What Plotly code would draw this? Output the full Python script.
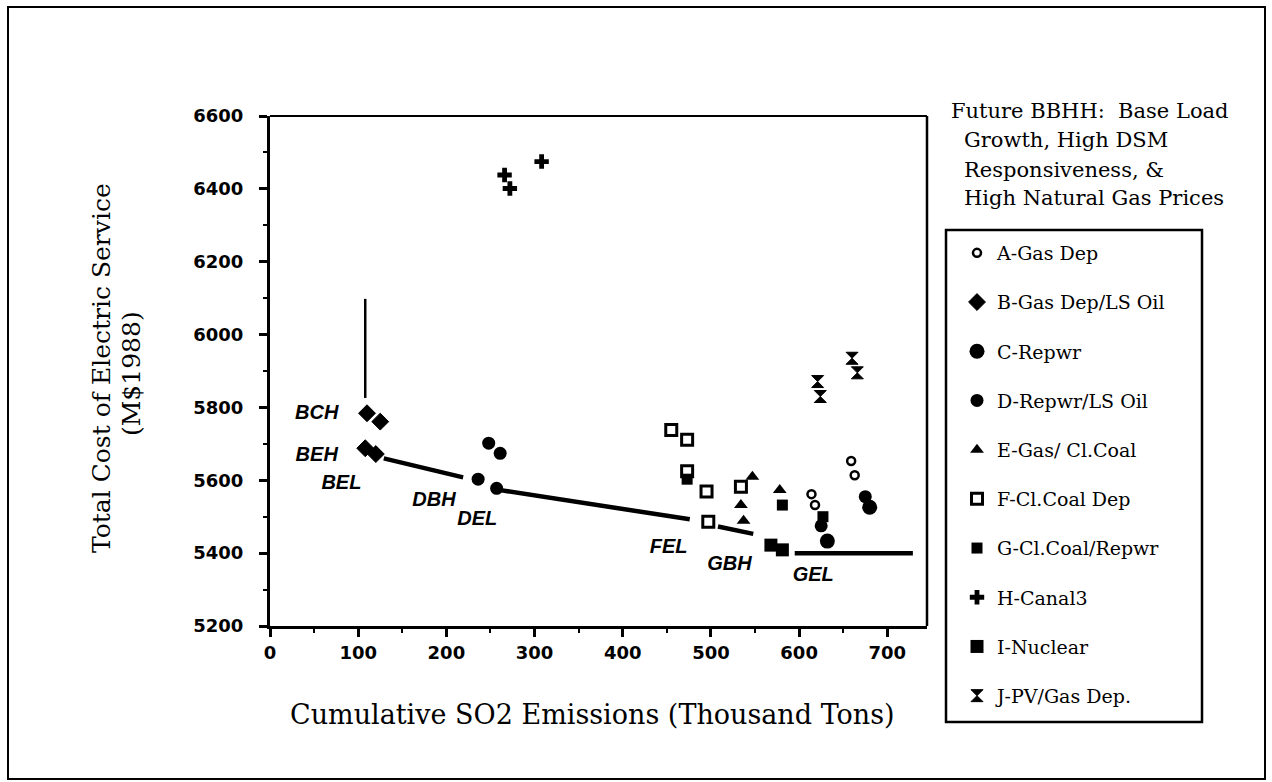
import plotly.graph_objects as go

# ---------------- data ----------------
series_names = ["A-Gas Dep", "B-Gas Dep/LS Oil", "C-Repwr", "D-Repwr/LS Oil",
                "E-Gas/ Cl.Coal", "F-Cl.Coal Dep", "G-Cl.Coal/Repwr", "H-Canal3",
                "I-Nuclear", "J-PV/Gas Dep."]

a_x = [614, 618, 659, 663]
a_y = [5562, 5532, 5653, 5614]
b_x = [110, 125, 108, 120]
b_y = [5784, 5761, 5688, 5672]
c_x = [632, 680]
c_y = [5433, 5526]
d_x = [248, 261, 236, 257, 625, 675]
d_y = [5702, 5674, 5603, 5578, 5475, 5555]
e_x = [547, 534, 537, 578]
e_y = [5610, 5532, 5489, 5573]
f_x = [455, 473, 473, 495, 497, 534]
f_y = [5738, 5711, 5625, 5569, 5486, 5582]
g_x = [473, 581, 627]
g_y = [5603, 5532, 5500]
h_x = [266, 272, 308]
h_y = [6438, 6401, 6475]
i_x = [568, 581]
i_y = [5422, 5409]
j_x = [621, 624, 660, 666]
j_y = [5871, 5830, 5935, 5895]

# trade-off curve segments
seg_vert_x = [108, 108]
seg_vert_y = [6098, 5826]
seg1_x = [129, 219]
seg1_y = [5660, 5608]
seg2_x = [261, 476]
seg2_y = [5573, 5493]
seg3_x = [508, 548]
seg3_y = [5473, 5453]
seg4_x = [595, 729]
seg4_y = [5400, 5400]

label_text = ["BCH", "BEH", "BEL", "DBH", "DEL", "FEL", "GBH", "GEL"]
label_x = [53, 53, 81, 186, 235, 452, 521, 616]
label_y = [5782, 5667, 5590, 5543, 5491, 5415, 5368, 5337]

x_ticks = [0, 100, 200, 300, 400, 500, 600, 700]
y_ticks = [5200, 5400, 5600, 5800, 6000, 6200, 6400, 6600]

x_title = "Cumulative SO2 Emissions (Thousand Tons)"
y_title_lines = ["Total Cost of Electric Service", "(M&#36;1988)"]
legend_title_lines = ["Future BBHH:  Base Load", "Growth, High DSM",
                      "Responsiveness, &amp;", "High Natural Gas Prices"]

# ---------------- geometry helpers ----------------
W, H = 1272, 782
L, R, T, B = 270, 345, 116, 156
PW, PH = W - L - R, H - T - B


def px(xp):
    return (xp - L) / PW


def py(yp):
    return (H - B - yp) / PH


SERIF = "DejaVu Serif"
SANS = "DejaVu Sans"

fig = go.Figure()

# curve segments
for sx, sy, w in [(seg_vert_x, seg_vert_y, 2.5), (seg1_x, seg1_y, 4.5),
                  (seg2_x, seg2_y, 4.5), (seg3_x, seg3_y, 4.5), (seg4_x, seg4_y, 4.5)]:
    fig.add_trace(go.Scatter(x=sx, y=sy, mode="lines", showlegend=False,
                             line=dict(color="black", width=w), hoverinfo="skip"))

# labels
fig.add_trace(go.Scatter(x=label_x, y=label_y, mode="text", text=label_text,
                         showlegend=False, hoverinfo="skip",
                         textfont=dict(family="Liberation Sans", size=20,
                                       color="black", style="italic", weight="bold")))

styles = [
    (a_x, a_y, dict(symbol="circle", size=8, color="white", line=dict(color="black", width=2.5))),
    (b_x, b_y, dict(symbol="diamond", size=13, color="black", line=dict(color="black", width=1))),
    (c_x, c_y, dict(symbol="circle", size=15, color="black")),
    (d_x, d_y, dict(symbol="circle", size=13, color="black")),
    (e_x, e_y, dict(symbol="triangle-up", size=12, color="black")),
    (f_x, f_y, dict(symbol="square", size=11, color="white", line=dict(color="black", width=3))),
    (g_x, g_y, dict(symbol="square", size=11, color="black")),
    (h_x, h_y, dict(symbol="cross", size=12, color="black")),
    (i_x, i_y, dict(symbol="square", size=13, color="black")),
    (j_x, j_y, dict(symbol="hourglass", size=12, color="black", line=dict(color="black", width=1))),
]
for k, (name, (sx, sy, mk)) in enumerate(zip(series_names, styles)):
    fig.add_trace(go.Scatter(x=sx, y=sy, mode="markers", name=name, marker=mk,
                             legendgroup=f"g{k}"))

fig.update_layout(
    width=W, height=H,
    margin=dict(l=L, r=R, t=T, b=B),
    paper_bgcolor="white", plot_bgcolor="white",
    showlegend=True,
    legend=dict(x=px(957), y=py(234), xanchor="left", yanchor="top",
                bgcolor="rgba(0,0,0,0)", borderwidth=0,
                font=dict(family=SERIF, size=19, color="black"),
                tracegroupgap=21.5, itemsizing="trace"),
    xaxis=dict(range=[0, 745], tickvals=x_ticks, ticktext=[str(v) for v in x_ticks],
               showgrid=False, zeroline=False, showline=True, linecolor="black", linewidth=3,
               ticks="outside", ticklen=8, tickwidth=2.5, tickcolor="black",
               minor=dict(dtick=50, tick0=0, ticks="outside", ticklen=4, tickwidth=2, tickcolor="black"),
               tickfont=dict(family=SANS, size=18, color="black", weight="bold"),
               ticklabelstandoff=0),
    yaxis=dict(range=[5200, 6600], tickvals=y_ticks, ticktext=[str(v) for v in y_ticks],
               showgrid=False, zeroline=False, showline=True, linecolor="black", linewidth=3,
               ticks="outside", ticklen=8, tickwidth=2.5, tickcolor="black",
               minor=dict(dtick=100, tick0=5200, ticks="outside", ticklen=4, tickwidth=2, tickcolor="black"),
               tickfont=dict(family=SANS, size=18, color="black", weight="bold"),
               ticklabelstandoff=12),
)

shapes = [
    dict(type="line", xref="paper", yref="paper", x0=0, x1=1, y0=1, y1=1,
         line=dict(color="black", width=2)),
    dict(type="line", xref="paper", yref="paper", x0=1, x1=1, y0=0, y1=1,
         line=dict(color="black", width=2.5)),
    dict(type="rect", xref="paper", yref="paper", x0=px(946), x1=px(1202),
         y0=py(722), y1=py(230), line=dict(color="black", width=2.5)),
    dict(type="rect", xref="paper", yref="paper", x0=px(8), x1=px(1265),
         y0=py(779), y1=py(7), line=dict(color="black", width=2)),
]
fig.update_layout(shapes=shapes)

fig.add_annotation(text=x_title, x=px(592), y=py(714), xref="paper", yref="paper",
                   xanchor="center", yanchor="middle", showarrow=False,
                   font=dict(family=SERIF, size=27, color="black"))
fig.add_annotation(text=y_title_lines[0], x=px(101), y=py(368), xref="paper", yref="paper",
                   xanchor="center", yanchor="middle", showarrow=False, textangle=-90,
                   font=dict(family=SERIF, size=25, color="black"))
fig.add_annotation(text=y_title_lines[1], x=px(131), y=py(374), xref="paper", yref="paper",
                   xanchor="center", yanchor="middle", showarrow=False, textangle=-90,
                   font=dict(family=SERIF, size=25, color="black"))
title_pos = [(949, 111), (962, 140), (962, 170), (962, 198)]
for line, (tx, ty) in zip(legend_title_lines, title_pos):
    fig.add_annotation(text=line, x=px(tx), y=py(ty), xref="paper", yref="paper",
                       xanchor="left", yanchor="middle", showarrow=False,
                       font=dict(family=SERIF, size=21, color="black"))

fig.write_html("out.html", config={"displayModeBar": False},
               post_script="document.body.style.margin='0';document.body.style.overflow='hidden';")
